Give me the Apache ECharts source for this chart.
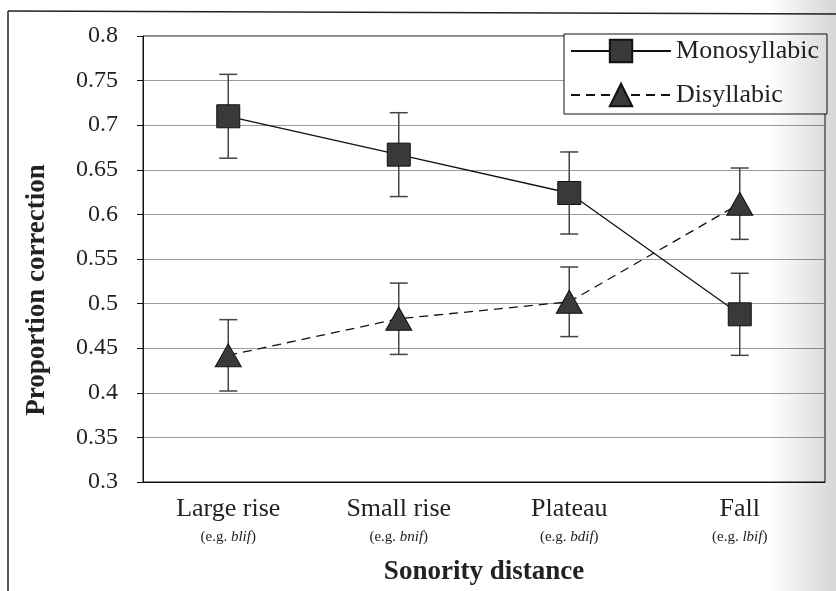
<!DOCTYPE html>
<html>
<head>
<meta charset="utf-8">
<script src="https://cdn.jsdelivr.net/npm/echarts@6/dist/echarts.min.js"></script>
<style>
  html, body { margin: 0; padding: 0; background: #fff; }
  #chart { width: 836px; height: 591px; }
</style>
</head>
<body>
<div id="chart"></div>
<script>
// data
var categories = ['Large rise', 'Small rise', 'Plateau', 'Fall'];
var examples = ['blif', 'bnif', 'bdif', 'lbif'];
var yTicks = [0.3, 0.35, 0.4, 0.45, 0.5, 0.55, 0.6, 0.65, 0.7, 0.75, 0.8];
var monoValues = [0.710, 0.667, 0.624, 0.488];
var monoErr = [0.047, 0.047, 0.046, 0.046];
var diValues = [0.442, 0.483, 0.502, 0.612];
var diErr = [0.040, 0.040, 0.039, 0.040];

var serif = 'Liberation Serif';

function errData(vals, errs) {
  return vals.map(function (v, i) { return [i, v - errs[i], v + errs[i]]; });
}

function errorBars(params, api) {
  var x = api.value(0);
  var lo = api.coord([x, api.value(1)]);
  var hi = api.coord([x, api.value(2)]);
  var w = 9;
  var st = { stroke: '#444', lineWidth: 1.5 };
  return {
    type: 'group',
    children: [
      { type: 'line', shape: { x1: lo[0], y1: lo[1], x2: hi[0], y2: hi[1] }, style: st },
      { type: 'line', shape: { x1: hi[0] - w, y1: hi[1], x2: hi[0] + w, y2: hi[1] }, style: st },
      { type: 'line', shape: { x1: lo[0] - w, y1: lo[1], x2: lo[0] + w, y2: lo[1] }, style: st }
    ]
  };
}

var chart = echarts.init(document.getElementById('chart'));
var option = {
  animation: false,
  backgroundColor: '#fff',
  grid: {
    left: 143, right: 11, top: 36, bottom: 108,
    show: true, borderColor: '#111', borderWidth: 1
  },
  legend: {
    data: ['Monosyllabic', 'Disyllabic'],
    orient: 'vertical',
    right: 9, top: 34,
    itemWidth: 100, itemHeight: 28, itemGap: 18,
    padding: [4, 8, 6, 6],
    backgroundColor: '#fff',
    borderColor: '#111', borderWidth: 1, borderRadius: 0,
    textStyle: { fontFamily: serif, fontSize: 26, color: '#222' }
  },
  xAxis: {
    type: 'category',
    data: categories,
    name: 'Sonority distance',
    nameLocation: 'middle',
    nameGap: 77,
    nameTextStyle: { fontFamily: serif, fontSize: 27, fontWeight: 'bold', color: '#222' },
    axisLine: { lineStyle: { color: '#111', width: 1 } },
    axisTick: { show: false },
    axisLabel: {
      margin: 13,
      formatter: function (v, i) {
        return '{a|' + v + '}\n{b|(e.g. }{i|' + examples[i] + '}{b|)}';
      },
      rich: {
        a: { fontFamily: serif, fontSize: 26, lineHeight: 28, color: '#222' },
        b: { fontFamily: serif, fontSize: 15, lineHeight: 28, color: '#222' },
        i: { fontFamily: serif, fontSize: 15, lineHeight: 28, fontStyle: 'italic', color: '#222' }
      }
    }
  },
  yAxis: {
    type: 'value',
    min: yTicks[0], max: yTicks[yTicks.length - 1], interval: 0.05,
    name: 'Proportion correction',
    nameLocation: 'middle',
    nameGap: 92,
    nameTextStyle: {
      fontFamily: serif, fontSize: 27, fontWeight: 'bold', color: '#222',
      padding: [0, 62, 0, 0]
    },
    axisLine: { show: true, lineStyle: { color: '#111', width: 1 } },
    axisTick: { show: true, length: 6, lineStyle: { color: '#111' } },
    axisLabel: {
      margin: 25,
      fontFamily: serif, fontSize: 24, color: '#222',
      formatter: function (v) { return String(+v.toFixed(2)); }
    },
    splitLine: { lineStyle: { color: '#9a9a9a', width: 1.2 } }
  },
  series: [
    {
      name: 'Mono err', type: 'custom', renderItem: errorBars,
      data: errData(monoValues, monoErr), encode: { x: 0, y: [1, 2] }, z: 1, silent: true
    },
    {
      name: 'Di err', type: 'custom', renderItem: errorBars,
      data: errData(diValues, diErr), encode: { x: 0, y: [1, 2] }, z: 1, silent: true
    },
    {
      name: 'Monosyllabic', type: 'line', data: monoValues,
      symbol: 'rect', symbolSize: 23,
      lineStyle: { color: '#111', width: 1.3, type: 'solid' },
      itemStyle: { color: '#393939', borderColor: '#111', borderWidth: 1 },
      z: 3
    },
    {
      name: 'Disyllabic', type: 'line', data: diValues,
      symbol: 'triangle', symbolSize: [26, 23],
      lineStyle: { color: '#111', width: 1.3, type: [9, 6] },
      itemStyle: { color: '#393939', borderColor: '#111', borderWidth: 1 },
      z: 3
    }
  ],
  graphic: [
    { type: 'line', shape: { x1: 8, y1: 11, x2: 8, y2: 591 }, style: { stroke: '#222', lineWidth: 1.5 }, silent: true },
    { type: 'line', shape: { x1: 8, y1: 11, x2: 836, y2: 14 }, style: { stroke: '#222', lineWidth: 1.5 }, silent: true },
    {
      type: 'rect', silent: true, z: 100,
      shape: { x: 770, y: 0, width: 66, height: 591 },
      style: {
        fill: new echarts.graphic.LinearGradient(0, 0, 1, 0, [
          { offset: 0, color: 'rgba(0,0,0,0)' },
          { offset: 1, color: 'rgba(0,0,0,0.16)' }
        ])
      }
    }
  ]
};
chart.setOption(option);
</script>
</body>
</html>
